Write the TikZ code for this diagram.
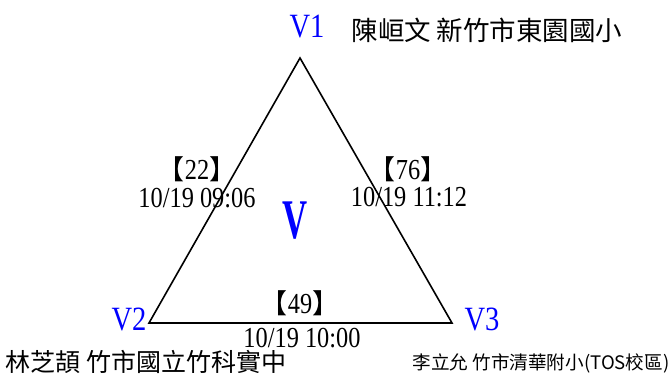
\documentclass[tikz,border=0pt]{standalone}
\usepackage{fontspec}
\usepackage{tikz}
\setmainfont{Liberation Serif}
\newfontfamily\narrow[FakeStretch=0.84]{Liberation Serif}
\newfontfamily\narrowbig[FakeStretch=0.62]{Liberation Serif}
\newfontfamily\cjk{Noto Sans CJK TC}
\newcommand{\lb}{{\cjk\fontsize{27}{27}\selectfont【}}
\newcommand{\rb}{{\cjk\fontsize{27}{27}\selectfont】}}

\begin{document}
\begin{tikzpicture}[x=1pt, y=-1pt, inner sep=0pt,
    vname/.style={anchor=base, text=blue, font=\narrow\fontsize{34}{34}\selectfont},
    wlabel/.style={anchor=base, font=\narrow\fontsize{29}{29}\selectfont},
    person/.style={anchor=base, font=\cjk\fontsize{25}{25}\selectfont}]
  \useasboundingbox (0,0) rectangle (672,374);
  \coordinate (v1) at (300,58);
  \coordinate (v2) at (149,323);
  \coordinate (v3) at (452,323);
  \draw[line width=1.6pt] (v1) -- (v2) -- (v3) -- cycle;

  \node[vname] (n1) at (307,38) {V1};
  \node[vname] (n2) at (129,330) {V2};
  \node[vname] (n3) at (482,330) {V3};
  \node[anchor=base, text=blue, font=\narrowbig\fontsize{56}{56}\selectfont\bfseries] (vv) at (295,239) {V};

  \node[wlabel] (w12) at (197,180) {\lb22\rb};
  \node[wlabel] (t12) at (197,208) {10/19 09:06};
  \node[wlabel] (w13) at (408,180) {\lb76\rb};
  \node[wlabel] (t13) at (409,207) {10/19 11:12};
  \node[wlabel] (w23) at (300,313) {\lb49\rb};
  \node[wlabel] (t23) at (302,347) {10/19 10:00};

  \node[person, font=\cjk\fontsize{26.5}{26.5}\selectfont] (p1) at (487,41) {陳峘文 新竹市東園國小};
  \node[person] (p2) at (146,371) {林芝頡 竹市國立竹科實中};
  \node[person, font=\cjk\fontsize{18.6}{18.6}\selectfont] (p3) at (541,369) {李立允 竹市清華附小(TOS校區)};
\end{tikzpicture}
\end{document}
